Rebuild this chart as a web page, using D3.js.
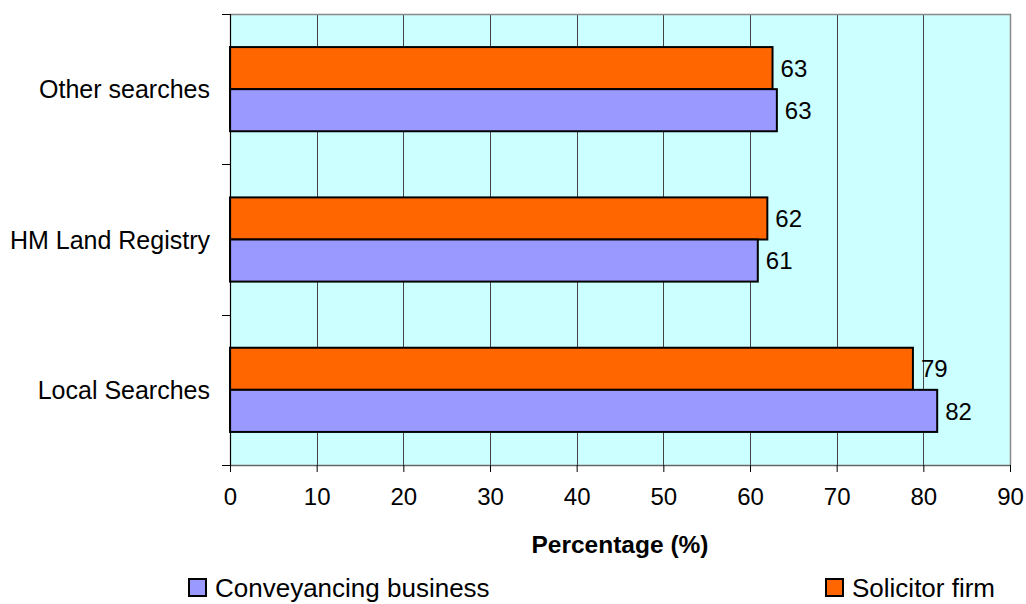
<!DOCTYPE html>
<html>
<head>
<meta charset="utf-8">
<script src="https://cdn.jsdelivr.net/npm/d3@7"></script>
<style>
  html, body { margin: 0; padding: 0; background: #ffffff; }
  svg { display: block; font-family: "Liberation Sans", Arial, sans-serif; }
</style>
</head>
<body>
<svg id="chart" width="1026" height="604"></svg>
<script>
// Search categories, listed top to bottom
const categories = ["Other searches", "HM Land Registry", "Local Searches"];
// Series names and values (percent)
const seriesNames = ["Solicitor firm", "Conveyancing business"];
const solicitorFirm = [62.6, 62.0, 78.8];
const conveyancingBusiness = [63.1, 60.9, 81.6];
const xTicks = [0, 10, 20, 30, 40, 50, 60, 70, 80, 90];
const xTitle = "Percentage (%)";

const colors = { "Solicitor firm": "#FF6600", "Conveyancing business": "#9999FF" };

const svg = d3.select("#chart");
const plot = { left: 230, right: 1010, top: 14, bottom: 465 };

const x = d3.scaleLinear().domain([0, 90]).range([plot.left, plot.right]);
const y = d3.scaleBand().domain(categories).range([plot.top, plot.bottom])
  .paddingInner(0.44).paddingOuter(0.22);
const ySub = d3.scaleBand().domain(seriesNames).range([0, y.bandwidth()]);

const rows = categories.map((c, i) => ({
  category: c,
  values: [
    { series: "Solicitor firm", value: solicitorFirm[i] },
    { series: "Conveyancing business", value: conveyancingBusiness[i] }
  ]
}));

// Plot background
svg.append("rect")
  .attr("x", plot.left).attr("y", plot.top)
  .attr("width", plot.right - plot.left).attr("height", plot.bottom - plot.top)
  .attr("fill", "#CCFFFF");

// Vertical gridlines
svg.append("g")
  .selectAll("line")
  .data(xTicks.slice(1, -1))
  .join("line")
  .attr("x1", d => Math.round(x(d)) + 0.5).attr("x2", d => Math.round(x(d)) + 0.5)
  .attr("y1", plot.top).attr("y2", plot.bottom)
  .attr("stroke", "#444").attr("stroke-width", 1);

// Plot frame (top and right)
svg.append("path")
  .attr("d", `M${plot.left},${plot.top + 0.5}H${plot.right + 0.5}V${plot.bottom}`)
  .attr("fill", "none").attr("stroke", "#888").attr("stroke-width", 1.5);

// Bars
const groups = svg.append("g").selectAll("g")
  .data(rows)
  .join("g")
  .attr("transform", d => `translate(0,${y(d.category)})`);

groups.selectAll("rect")
  .data(d => d.values)
  .join("rect")
  .attr("x", x(0))
  .attr("y", d => ySub(d.series))
  .attr("width", d => x(d.value) - x(0))
  .attr("height", ySub.bandwidth())
  .attr("fill", d => colors[d.series])
  .attr("stroke", "#000").attr("stroke-width", 2);

// Value labels
groups.selectAll("text")
  .data(d => d.values)
  .join("text")
  .attr("x", d => x(d.value) + 8)
  .attr("y", d => ySub(d.series) + ySub.bandwidth() / 2)
  .attr("dy", "0.36em")
  .attr("font-size", 24)
  .attr("fill", "#000")
  .text(d => d3.format(".0f")(d.value));

// X axis
const xAxis = svg.append("g")
  .attr("transform", `translate(0,${plot.bottom})`)
  .call(d3.axisBottom(x).tickValues(xTicks).tickSize(7).tickPadding(21).tickSizeOuter(0));
xAxis.select(".domain").attr("stroke", "#666").attr("stroke-width", 1.5);
xAxis.selectAll(".tick line").attr("stroke", "#000");
xAxis.selectAll(".tick text").attr("font-size", 24).attr("fill", "#000")
  .attr("font-family", "Liberation Sans, Arial, sans-serif")
  .attr("dy", "0.5em");

// Y axis (category boundaries as ticks)
const yAxisG = svg.append("g").attr("transform", `translate(${plot.left},0)`);
yAxisG.append("line")
  .attr("x1", 0.5).attr("x2", 0.5).attr("y1", plot.top).attr("y2", plot.bottom)
  .attr("stroke", "#000").attr("stroke-width", 1.2);
const boundaries = categories.map(c => y(c) - y.step() * y.paddingInner() / 2)
  .concat([plot.bottom]);
yAxisG.selectAll("line.tick")
  .data(boundaries)
  .join("line")
  .attr("class", "tick")
  .attr("x1", -8).attr("x2", 0)
  .attr("y1", d => Math.round(d) + 0.5).attr("y2", d => Math.round(d) + 0.5)
  .attr("stroke", "#000");
yAxisG.selectAll("text")
  .data(categories)
  .join("text")
  .attr("x", -20)
  .attr("y", d => y(d) + y.bandwidth() / 2)
  .attr("dy", "0.36em")
  .attr("text-anchor", "end")
  .attr("font-size", 25)
  .attr("fill", "#000")
  .text(d => d);

// Axis title
svg.append("text")
  .attr("x", (plot.left + plot.right) / 2)
  .attr("y", 552.5)
  .attr("text-anchor", "middle")
  .attr("font-size", 24.5)
  .attr("font-weight", "bold")
  .attr("fill", "#000")
  .text(xTitle);

// Legend
const legendItems = [
  { name: "Conveyancing business", x: 189 },
  { name: "Solicitor firm", x: 826 }
];
const legend = svg.append("g").selectAll("g")
  .data(legendItems)
  .join("g")
  .attr("transform", d => `translate(${d.x},579)`);
legend.append("rect")
  .attr("width", 17).attr("height", 17)
  .attr("fill", d => colors[d.name])
  .attr("stroke", "#000").attr("stroke-width", 2);
legend.append("text")
  .attr("x", 26).attr("y", 17.5)
  .attr("font-size", 26)
  .attr("fill", "#000")
  .text(d => d.name);
</script>
</body>
</html>
